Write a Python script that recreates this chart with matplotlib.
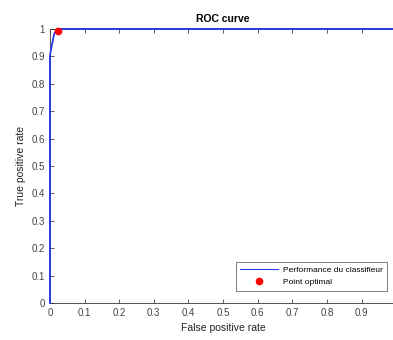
import matplotlib
matplotlib.use("Agg")
import matplotlib.pyplot as plt

fpr = [0.0, 0.0, 0.004, 0.012, 0.02, 0.06, 1.0]
tpr = [0.0, 0.9, 0.93, 0.98, 1.0, 1.0, 1.0]
opt_fpr = [0.022]
opt_tpr = [0.993]
xticks = [0, 0.1, 0.2, 0.3, 0.4, 0.5, 0.6, 0.7, 0.8, 0.9]
xticklabels = ["0", "0.1", "0.2", "0.3", "0.4", "0.5", "0.6", "0.7", "0.8", "0.9"]
yticks = [0, 0.1, 0.2, 0.3, 0.4, 0.5, 0.6, 0.7, 0.8, 0.9, 1]
yticklabels = ["0", "0.1", "0.2", "0.3", "0.4", "0.5", "0.6", "0.7", "0.8", "0.9", "1"]

plt.rcParams['font.family'] = ['Liberation Sans', 'DejaVu Sans']
fig = plt.figure(figsize=(3.93, 3.40), dpi=100)
ax = fig.add_axes([0.127, 0.109, 0.881, 0.806])
ax.plot(fpr, tpr, color='#2a3be8', lw=1.3, label='Performance du classifieur',
        clip_on=False, zorder=5)
ax.plot(opt_fpr, opt_tpr, 'o', color='red', ms=4.5, label='Point optimal', linestyle='none',
        clip_on=False, zorder=6)
ax.set_xlim(0, 1)
ax.set_ylim(0, 1)
ax.set_xticks(xticks)
ax.set_xticklabels(xticklabels)
ax.set_yticks(yticks)
ax.set_yticklabels(yticklabels)
ax.tick_params(direction='in', top=True, right=False, labelsize=7, colors='#444444', length=3, width=0.6)
for s in ax.spines.values():
    s.set_color('#333333')
    s.set_linewidth(0.6)
ax.set_xlabel('False positive rate', fontsize=7.5, color='#222222', labelpad=4)
ax.set_ylabel('True positive rate', fontsize=7.5, color='#222222', labelpad=4)
ax.set_title('ROC curve', fontsize=7.5, fontweight='bold', pad=5)
leg = ax.legend(loc='lower right', bbox_to_anchor=(0.985, 0.03), fontsize=6, frameon=True,
                fancybox=False, edgecolor='#444444', handlelength=4.5, borderpad=0.5,
                labelspacing=0.6, handletextpad=0.6)
leg.get_frame().set_linewidth(0.6)
for line in leg.get_lines():
    line.set_linewidth(0.8)
fig.savefig('out.png', dpi=100)
